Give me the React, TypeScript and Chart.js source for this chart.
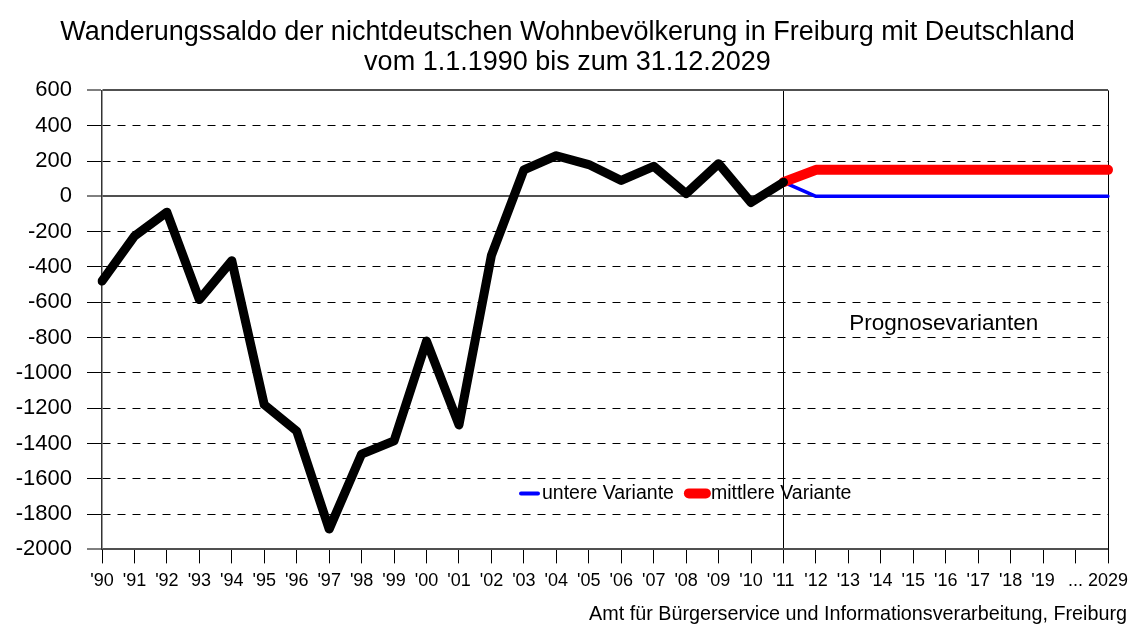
import React, { useEffect, useRef } from "react";
import { Chart, registerables } from "chart.js";

Chart.register(...registerables);

const categories: string[] = [
  "'90", "'91", "'92", "'93", "'94", "'95", "'96", "'97", "'98", "'99",
  "'00", "'01", "'02", "'03", "'04", "'05", "'06", "'07", "'08", "'09",
  "'10", "'11", "'12", "'13", "'14", "'15", "'16", "'17", "'18", "'19",
  "...", "2029",
];

const historyValues: (number | null)[] = [
  -480, -225, -90, -585, -365, -1180, -1330, -1885, -1460, -1385,
  -820, -1295, -335, 150, 230, 180, 90, 170, 15, 185,
  -35, 80, null, null, null, null, null, null, null, null,
  null, null,
];

const untereVariante: (number | null)[] = [
  null, null, null, null, null, null, null, null, null, null,
  null, null, null, null, null, null, null, null, null, null,
  null, 80, 0, 0, 0, 0, 0, 0, 0, 0,
  0, 0,
];

const mittlereVariante: (number | null)[] = [
  null, null, null, null, null, null, null, null, null, null,
  null, null, null, null, null, null, null, null, null, null,
  null, 80, 150, 150, 150, 150, 150, 150, 150, 150,
  150, 150,
];

const titleLines: string[] = [
  "Wanderungssaldo der nichtdeutschen Wohnbevölkerung in Freiburg mit Deutschland",
  "vom 1.1.1990 bis zum 31.12.2029",
];
const footerText = "Amt für Bürgerservice und Informationsverarbeitung, Freiburg";
const annotationText = "Prognosevarianten";
const legendLabels: string[] = ["untere Variante", "mittlere Variante"];

const FONT = "'Liberation Sans', Arial, Helvetica, sans-serif";

const extrasPlugin = {
  id: "extras",
  afterDatasetsDraw(chart: any) {
    const { ctx, chartArea, scales } = chart;
    const x = scales.x;
    const y = scales.y;
    ctx.save();
    // annotation
    ctx.fillStyle = "#000";
    ctx.font = `22.5px ${FONT}`;
    ctx.textAlign = "center";
    ctx.textBaseline = "middle";
    const ax = (x.getPixelForValue(21) + x.getPixelForValue(31)) / 2 - 2;
    ctx.fillText(annotationText, ax, y.getPixelForValue(-720));

    // legend
    const ly = chartArea.top + 403;
    let lx = chartArea.left + 417;
    const dsBlue = chart.data.datasets[1];
    const dsRed = chart.data.datasets[2];
    ctx.lineCap = "round";
    ctx.strokeStyle = dsBlue.borderColor;
    ctx.lineWidth = 4;
    ctx.beginPath();
    ctx.moveTo(lx + 2, ly);
    ctx.lineTo(lx + 19, ly);
    ctx.stroke();
    lx += 23;
    ctx.font = `19.5px ${FONT}`;
    ctx.textAlign = "left";
    ctx.fillStyle = "#000";
    ctx.fillText(legendLabels[0], lx, ly);
    lx += ctx.measureText(legendLabels[0]).width + 10;
    ctx.strokeStyle = dsRed.borderColor;
    ctx.lineWidth = 10;
    ctx.beginPath();
    ctx.moveTo(lx + 5, ly);
    ctx.lineTo(lx + 22, ly);
    ctx.stroke();
    lx += 27;
    ctx.fillText(legendLabels[1], lx, ly);

    // footer
    ctx.font = `19.75px ${FONT}`;
    ctx.textAlign = "right";
    ctx.textBaseline = "middle";
    ctx.fillText(footerText, chart.width - 1, chart.height - 9);
    ctx.restore();
  },
};

export default function App() {
  const canvasRef = useRef<HTMLCanvasElement | null>(null);

  useEffect(() => {
    if (!canvasRef.current) return;
    const chart = new Chart(canvasRef.current, {
      type: "line",
      data: {
        labels: categories,
        datasets: [
          {
            label: "Saldo",
            data: historyValues,
            borderColor: "#000000",
            borderWidth: 9,
            borderCapStyle: "round",
            borderJoinStyle: "round",
            pointRadius: 0,
            tension: 0,
            order: 0,
          },
          {
            label: legendLabels[0],
            data: untereVariante,
            borderColor: "#0000FF",
            borderWidth: 3.5,
            borderCapStyle: "round",
            borderJoinStyle: "round",
            pointRadius: 0,
            tension: 0,
            order: 2,
          },
          {
            label: legendLabels[1],
            data: mittlereVariante,
            borderColor: "#FF0000",
            borderWidth: 10,
            borderCapStyle: "round",
            borderJoinStyle: "round",
            pointRadius: 0,
            tension: 0,
            order: 1,
          },
        ],
      },
      options: {
        responsive: false,
        animation: false,
        layout: { padding: { left: 0, right: 1, top: 0, bottom: 25 } },
        plugins: {
          legend: { display: false },
          tooltip: { enabled: false },
          title: {
            display: true,
            text: titleLines,
            color: "#000",
            font: { family: FONT, size: 27, weight: "normal", lineHeight: 1.1 },
            padding: { top: 10, bottom: 13 },
          },
        },
        scales: {
          x: {
            type: "category",
            offset: false,
            afterFit: (scale: any) => {
              scale.paddingRight = 20;
              scale.paddingLeft = 0;
            },
            grid: {
              display: true,
              drawOnChartArea: true,
              drawTicks: true,
              tickLength: 14,
              color: (c: any) =>
                c.index === 21 || c.index === 31 ? "#000" : "rgba(0,0,0,0)",
              lineWidth: 1,
              tickColor: "#000",
              tickWidth: 1,
            },
            border: { display: false },
            ticks: {
              autoSkip: false,
              maxRotation: 0,
              minRotation: 0,
              padding: 7,
              color: "#000",
              font: { family: FONT, size: 18 },
            },
          },
          y: {
            min: -2000,
            max: 600,
            afterFit: (scale: any) => {
              scale.width = 94;
            },
            grid: {
              color: (c: any) => {
                const v = c.tick ? c.tick.value : null;
                return v === 0 || v === 600 || v === -2000 ? "#505050" : "#000";
              },
              lineWidth: (c: any) => {
                const v = c.tick ? c.tick.value : null;
                return v === 0 || v === 600 || v === -2000 ? 2 : 1;
              },
              tickLength: 15,
              tickColor: "#000",
              tickWidth: 1,
            },
            border: {
              display: true,
              color: "#333",
              width: 1.5,
              dash: (c: any) => {
                const v = c.tick ? c.tick.value : null;
                return v === 0 || v === 600 || v === -2000 ? [] : [8, 7];
              },
            },
            ticks: {
              stepSize: 200,
              padding: 15,
              color: "#000",
              font: { family: FONT, size: 22 },
              callback: (value: any) => String(value),
            },
          },
        },
      },
      plugins: [extrasPlugin],
    } as any);
    return () => chart.destroy();
  }, []);

  return (
    <div style={{ width: 1120, height: 616 }}>
      <canvas ref={canvasRef} width={1120} height={616} style={{ display: "block" }} />
    </div>
  );
}
